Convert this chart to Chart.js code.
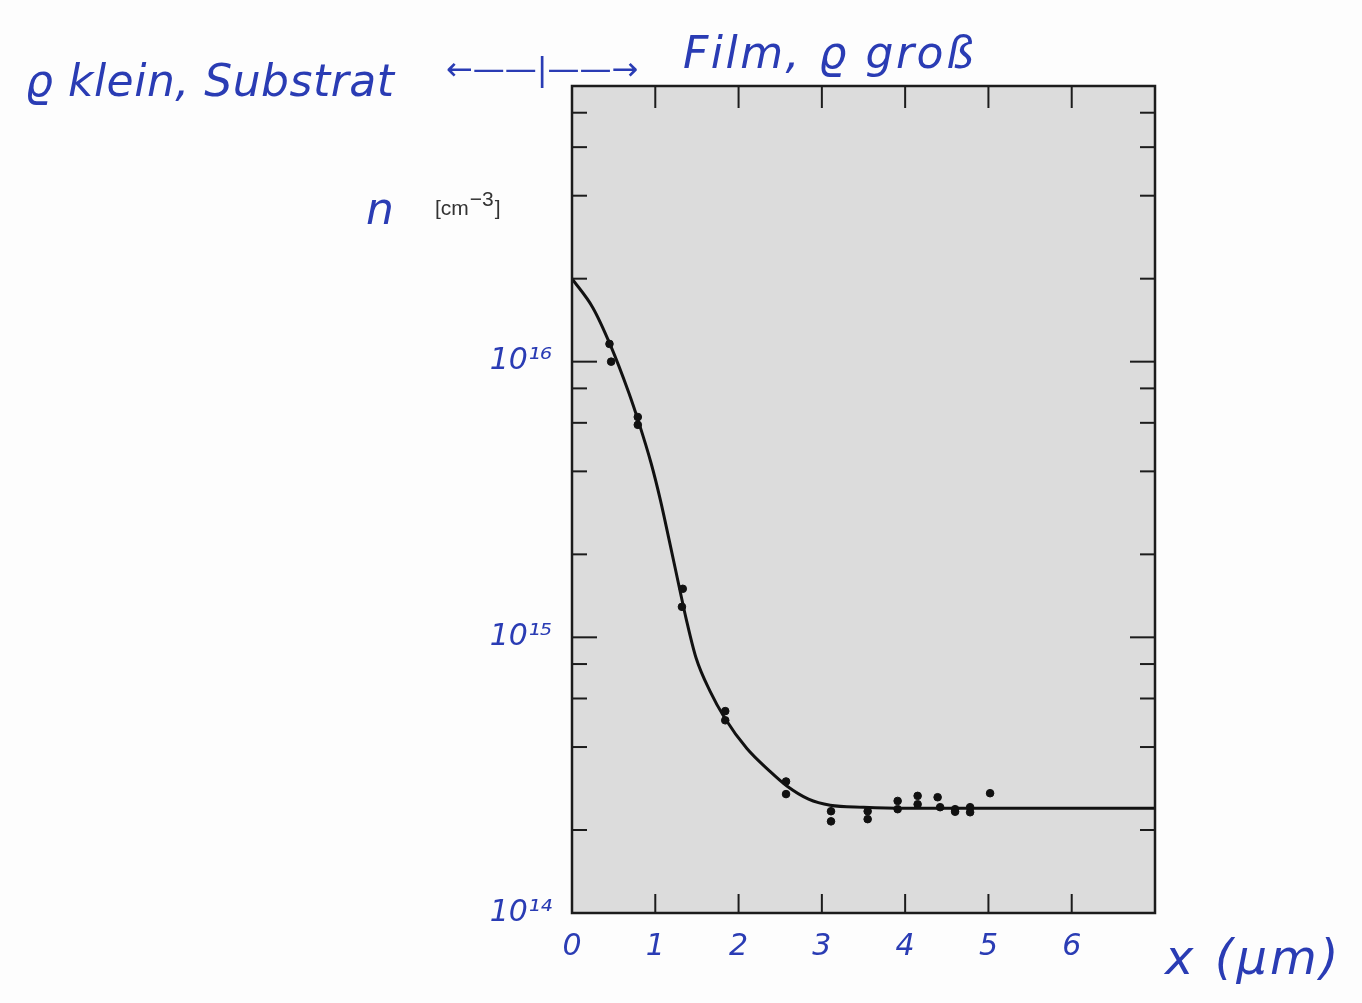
<!DOCTYPE html>
<html>
<head>
<meta charset="utf-8">
<title>n(x)</title>
<script src="https://cdn.jsdelivr.net/npm/chart.js@4.4.1/dist/chart.umd.min.js"></script>
<style>
  html, body { margin: 0; padding: 0; background: #fdfdfd; }
  #wrap { width: 1362px; height: 1003px; }
</style>
</head>
<body>
<div id="wrap"><canvas id="chart" width="1362" height="1003"></canvas></div>
<script>
// fitted profile n(x)
var curveX = [0, 0.25, 0.46, 0.68, 0.8, 0.95, 1.06, 1.17, 1.29, 1.37, 1.49, 1.66, 1.83, 2.1, 2.37, 2.58,
              2.84, 3.1, 3.5, 4, 5, 6, 7];
var curveN = [2.0e16, 1.57e16, 1.15e16, 7.74e15, 6.04e15, 4.28e15, 3.16e15, 2.23e15, 1.51e15, 1.17e15, 8.41e14, 6.35e14,
              5.12e14, 3.95e14, 3.28e14, 2.89e14, 2.59e14, 2.46e14, 2.42e14, 2.4e14, 2.4e14, 2.4e14, 2.4e14];

// measured points
var pointX = [0.45, 0.47, 0.79, 0.79, 1.33, 1.32, 1.84, 1.84, 2.57, 2.57, 3.11, 3.11, 3.55, 3.55,
              3.91, 3.91, 4.15, 4.15, 4.39, 4.42, 4.60, 4.60, 4.78, 4.78, 5.02];
var pointN = [1.16e16, 1.0e16, 6.3e15, 5.9e15, 1.5e15, 1.29e15, 5.4e14, 5.0e14, 3.0e14, 2.7e14, 2.34e14, 2.15e14, 2.34e14, 2.19e14,
              2.55e14, 2.38e14, 2.66e14, 2.48e14, 2.63e14, 2.42e14, 2.38e14, 2.33e14, 2.42e14, 2.32e14, 2.72e14];

// axes
var xTickLabels = ['0', '1', '2', '3', '4', '5', '6'];
var xInnerTicks = [1, 2, 3, 4, 5, 6];
var yTickValues = [1e14, 2e14, 4e14, 6e14, 8e14, 1e15, 2e15, 4e15, 6e15, 8e15,
                   1e16, 2e16, 4e16, 6e16, 8e16, 1e17];
var yLabelValues = [1e14, 1e15, 1e16];
var yLabelText = ['10\u00b9\u2074', '10\u00b9\u2075', '10\u00b9\u2076'];

var ink = '#2a3cb4';

function line(ctx, x1, y1, x2, y2) {
    ctx.beginPath();
    ctx.moveTo(x1, y1);
    ctx.lineTo(x2, y2);
    ctx.stroke();
}

function note(ctx, text, x, y, font, spacing) {
    ctx.font = font;
    ctx.letterSpacing = (spacing || 0) + 'px';
    ctx.fillText(text, x, y);
    ctx.letterSpacing = '0px';
}

var paperFrame = {
    id: 'paperFrame',
    beforeDraw: function(chart) {
        var a = chart.chartArea;
        var ctx = chart.ctx;
        ctx.save();
        ctx.fillStyle = '#dcdcdc';
        ctx.fillRect(a.left, a.top, a.right - a.left, a.bottom - a.top);
        ctx.restore();
    },
    afterDraw: function(chart) {
        var a = chart.chartArea;
        var ctx = chart.ctx;
        var xs = chart.scales.x;
        var ys = chart.scales.y;
        ctx.save();
        ctx.strokeStyle = '#1c1c1c';
        ctx.lineWidth = 2.5;
        ctx.strokeRect(a.left, a.top, a.right - a.left, a.bottom - a.top);

        ctx.lineWidth = 2;
        for (var i = 0; i < xInnerTicks.length; i++) {
            var px = xs.getPixelForValue(xInnerTicks[i]);
            line(ctx, px, a.bottom, px, a.bottom - 19);
            line(ctx, px, a.top, px, a.top + 22);
        }
        var t = ys.ticks;
        for (var j = 0; j < t.length; j++) {
            var v = t[j].value;
            if (v <= ys.min || v >= ys.max) {
                continue;
            }
            var py = ys.getPixelForValue(v);
            var len = yLabelValues.indexOf(v) > -1 ? 25 : 15;
            line(ctx, a.left, py, a.left + len, py);
            line(ctx, a.right, py, a.right - len, py);
        }

        // handwritten notes
        ctx.fillStyle = ink;
        ctx.textBaseline = 'alphabetic';
        note(ctx, '\u03f1 klein, Substrat', 25, 96, 'italic 44px "DejaVu Sans"', 0.5);
        note(ctx, '\u2190\u2014\u2014|\u2014\u2014\u2192', 446, 80, '32px "DejaVu Sans"', 0);
        note(ctx, 'Film, \u03f1 gro\u00df', 683, 68, 'italic 44px "DejaVu Sans"', 2.5);
        note(ctx, 'n', 366, 224, 'italic 44px "DejaVu Sans"', 0);
        note(ctx, 'x (\u00b5m)', 1165, 974, 'italic 48px "DejaVu Sans"', 3);

        // printed unit
        ctx.fillStyle = '#333';
        ctx.font = '21px "Liberation Sans"';
        ctx.fillText('[cm', 435, 215);
        var w = ctx.measureText('[cm').width;
        ctx.fillText('\u22123', 435 + w + 1, 206);
        var w2 = ctx.measureText('\u22123').width;
        ctx.fillText(']', 435 + w + w2 + 2, 215);
        ctx.restore();
    }
};

var points = [];
for (var i = 0; i < pointX.length; i++) {
    points.push({x: pointX[i], y: pointN[i]});
}
var curve = [];
for (var i = 0; i < curveX.length; i++) {
    curve.push({x: curveX[i], y: curveN[i]});
}

new Chart(document.getElementById('chart'), {
    type: 'scatter',
    data: {
        datasets: [{
            data: curve,
            showLine: true,
            borderColor: '#111',
            borderWidth: 3,
            pointRadius: 0,
            cubicInterpolationMode: 'monotone'
        }, {
            data: points,
            showLine: false,
            backgroundColor: '#111',
            borderColor: '#111',
            pointRadius: 3.8,
            pointHoverRadius: 3.8
        }]
    },
    options: {
        responsive: false,
        animation: false,
        events: [],
        layout: { padding: { left: 0, top: 86, right: 207, bottom: 0 } },
        plugins: { legend: { display: false }, tooltip: { enabled: false } },
        scales: {
            x: {
                type: 'linear',
                min: 0,
                max: 7,
                grid: { display: false, drawTicks: false },
                border: { display: false },
                ticks: {
                    stepSize: 1,
                    padding: 16,
                    color: ink,
                    font: { family: 'DejaVu Sans', size: 30, style: 'italic' },
                    maxRotation: 0,
                    autoSkip: false,
                    callback: function(value, index) {
                        return xTickLabels[index] || '';
                    }
                },
                afterFit: function(scale) { scale.height = 90; }
            },
            y: {
                type: 'logarithmic',
                min: 1e14,
                max: 1e17,
                grid: { display: false, drawTicks: false },
                border: { display: false },
                afterBuildTicks: function(scale) {
                    scale.ticks = yTickValues.map(function(v) { return {value: v}; });
                },
                ticks: {
                    padding: 20,
                    color: ink,
                    autoSkip: false,
                    font: { family: 'DejaVu Sans', size: 30, style: 'italic' },
                    callback: function(value) {
                        var k = yLabelValues.indexOf(value);
                        return k > -1 ? yLabelText[k] : '';
                    }
                },
                afterFit: function(scale) { scale.width = 572; }
            }
        }
    },
    plugins: [paperFrame]
});
</script>
</body>
</html>
